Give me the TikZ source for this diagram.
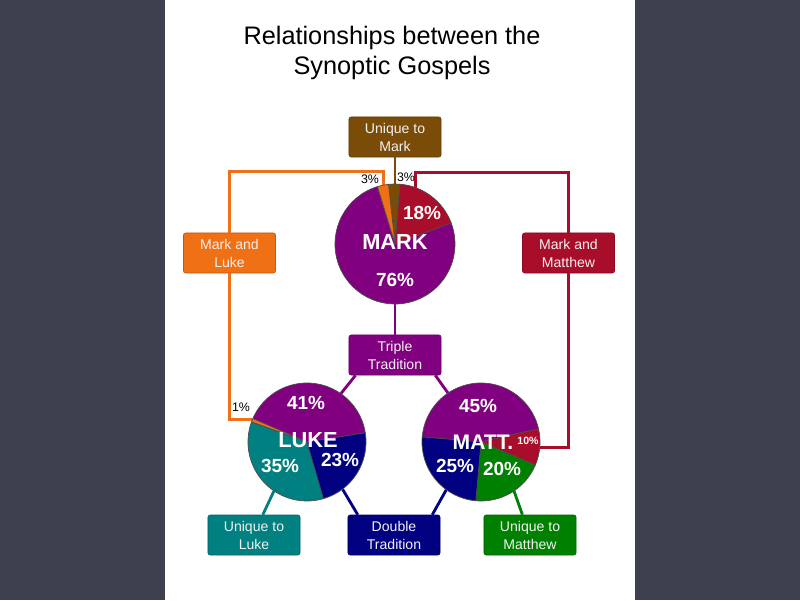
\documentclass[tikz,border=0pt]{standalone}
\usepackage{fontspec}
\setmainfont{Liberation Sans}
\usepackage{tikz}
\usetikzlibrary{positioning,calc}
\definecolor{slate}{RGB}{61,65,79}
\definecolor{markbrown}{RGB}{122,76,8}
\definecolor{lukeorange}{RGB}{240,112,22}
\definecolor{mattred}{RGB}{168,14,42}
\definecolor{triplepurple}{RGB}{128,0,128}
\definecolor{doublenavy}{RGB}{0,0,128}
\definecolor{lukteal}{RGB}{0,128,128}
\definecolor{mattgreen}{RGB}{0,128,0}
\newcommand{\pieslice}[5]{% centre, radius, start, end, colour
  \filldraw[fill=#5, draw=black!70, line width=0.5pt]
    (#1) -- ++(#3:#2) arc[start angle=#3, end angle=#4, radius=#2] -- cycle;}

\begin{document}
\begin{tikzpicture}[
    x=0.025cm, y=0.025cm,
    srcbox/.style={rectangle, fill=#1, draw=#1!80!black, line width=0.4pt,
        minimum width=2.3cm, minimum height=1cm, inner sep=1pt,
        rounded corners=1.5pt, align=center, text=white!90!gray,
        font=\fontsize{10}{12.8}\selectfont},
    pie/.style={circle, inner sep=0pt, outer sep=0pt, minimum size=#1},
    link/.style={#1, line width=2pt},
    big/.style={text=white, font=\fontsize{15.5}{17}\selectfont\bfseries},
    pct/.style={text=white, font=\fontsize{13.5}{15}\selectfont\bfseries},
    small/.style={text=black, font=\fontsize{8.8}{10}\selectfont}
]
    % background and white panel
    \fill[slate] (0,0) rectangle (800,600);
    \fill[white] (165,0) rectangle (635,600);
    \useasboundingbox (0,0) rectangle (800,600);

    % title
    \node[font=\fontsize{18}{21}\selectfont, align=center] (title) at (392,547)
        {Relationships between the\\Synoptic Gospels};

    % pies
    \node[pie=3cm] (mark) at (395,356) {};
    \node[pie=2.95cm] (luke) at (307,158) {};
    \node[pie=2.95cm] (matt) at (481,158) {};

    % boxes
    \node[srcbox=markbrown] (markU) at (395,463) {Unique to\\Mark};
    \node[srcbox=lukeorange] (markluke) at (229.5,347) {Mark and\\Luke};
    \node[srcbox=mattred] (markmatt) at (568.5,347) {Mark and\\Matthew};
    \node[srcbox=triplepurple] (triple) at (395,245) {Triple\\Tradition};
    \node[srcbox=lukteal] (lukeU) at (254,65) {Unique to\\Luke};
    \node[srcbox=doublenavy] (double) at (394,65) {Double\\Tradition};
    \node[srcbox=mattgreen] (mattU) at (530,65) {Unique to\\Matthew};

    % connectors
    \draw[link=markbrown] (markU) -- (mark);
    \draw[link=lukeorange] (markluke.north) |- ([yshift=0.33cm]mark.101.6) -- (mark.101.6);
    \draw[link=lukeorange] (markluke.south) |- (luke.158);
    \draw[link=mattred] (markmatt.north) |- ([yshift=0.38cm]mark.70.5) -- (mark.70.5);
    \draw[link=mattred] (markmatt.south) |- (matt.-5);
    \draw[link=triplepurple] (triple) -- (mark);
    \draw[link=triplepurple] ([xshift=0.17cm]triple.south west) -- (luke.55);
    \draw[link=triplepurple] ([xshift=-0.15cm]triple.south east) -- (matt.124);
    \draw[link=lukteal] (luke.236) -- ([xshift=0.22cm]lukeU.north);
    \draw[link=doublenavy] (luke.307) -- ([xshift=0.25cm]double.north west);
    \draw[link=doublenavy] (matt.234) -- ([xshift=-0.2cm]double.north east);
    \draw[link=mattgreen] (matt.304) -- ([xshift=-0.19cm]mattU.north);

    % Mark slices
    \pieslice{mark.center}{60}{107}{380.6}{triplepurple}
    \pieslice{mark.center}{60}{20.6}{85.4}{mattred}
    \pieslice{mark.center}{60}{85.4}{96.2}{markbrown}
    \pieslice{mark.center}{60}{96.2}{107}{lukeorange}

    % Luke slices
    \pieslice{luke.center}{59}{9}{156.6}{triplepurple}
    \pieslice{luke.center}{59}{156.6}{160.2}{lukeorange}
    \pieslice{luke.center}{59}{160.2}{286.2}{lukteal}
    \pieslice{luke.center}{59}{286.2}{369}{doublenavy}

    % Matthew slices
    \pieslice{matt.center}{59}{13}{175}{triplepurple}
    \pieslice{matt.center}{59}{-23}{13}{mattred}
    \pieslice{matt.center}{59}{265}{337}{mattgreen}
    \pieslice{matt.center}{59}{175}{265}{doublenavy}

    % labels
    \node[big] (markname) at (395,358) {MARK};
    \node[pct] (mark18) at (422,387) {18\%};
    \node[pct] (mark76) at (395,320) {76\%};
    \node[small] (mark3a) at (370,421) {3\%};
    \node[small] (mark3b) at (406,423) {3\%};

    \node[big] (lukename) at (308,160) {LUKE};
    \node[pct] (luke41) at (306,197) {41\%};
    \node[pct] (luke35) at (280,134) {35\%};
    \node[pct] (luke23) at (340,140) {23\%};
    \node[small] (luke1) at (241,193) {1\%};

    \node[big, inner sep=0pt, font=\fontsize{15}{17}\selectfont\bfseries] (mattname) at (483,158) {MATT.};
    \node[text=white, inner sep=0pt, font=\fontsize{7.5}{9}\selectfont\bfseries] (matt10) at (528,159) {10\%};
    \node[pct] (matt45) at (478,194) {45\%};
    \node[pct] (matt25) at (455,134) {25\%};
    \node[pct] (matt20) at (502,131) {20\%};
\end{tikzpicture}
\end{document}
